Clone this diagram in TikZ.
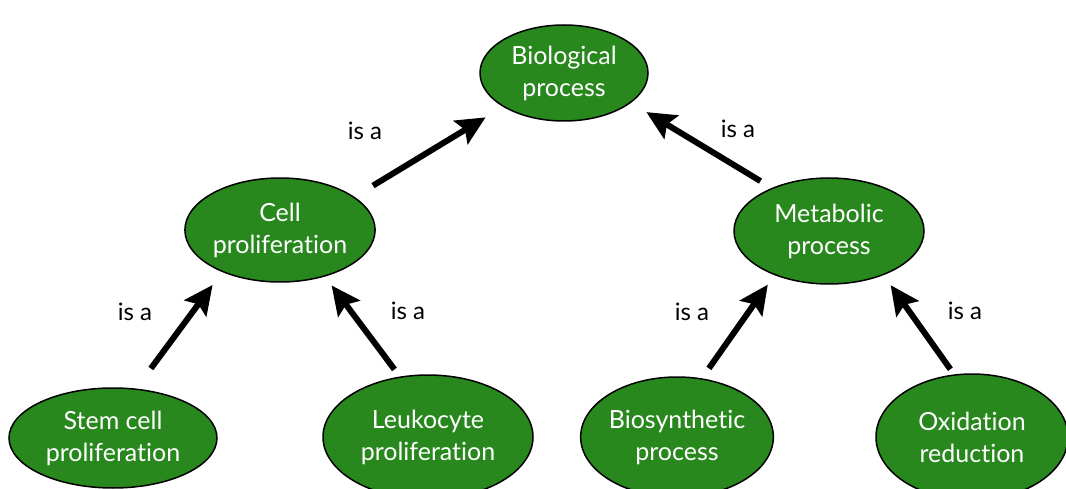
\documentclass[tikz,border=0pt]{standalone}
\usepackage{fontspec}
\setmainfont{Lato}[Ligatures={NoCommon,NoContextual}]
\usetikzlibrary{shapes.geometric,arrows.meta}
\definecolor{termgreen}{RGB}{40,136,30}
\tikzset{
  term/.style={ellipse, draw=black, line width=1.5pt, fill=termgreen,
    text=white, align=center, inner sep=0pt,
    font=\fontsize{25}{32}\selectfont},
  isa/.style={line width=6pt, -{Stealth[length=29pt,width=27pt,inset=5pt]}},
  rel/.style={text=black, font=\fontsize{24}{28}\selectfont},
}
\begin{document}
\begin{tikzpicture}[x=1pt,y=-1pt]
\useasboundingbox (0,0) rectangle (1066,489);

% ontology terms
\node[term, minimum width=168pt, minimum height=96pt]  (bio)  at (564,73)  {Biological\\process};
\node[term, minimum width=190pt, minimum height=104pt] (cell) at (280,230) {Cell\\proliferation};
\node[term, minimum width=190pt, minimum height=106pt] (met)  at (829,231) {Metabolic\\process};
\node[term, minimum width=208pt, minimum height=100pt] (stem) at (113,438) {Stem cell\\proliferation};
\node[term, minimum width=210pt, minimum height=124pt] (leuk) at (428,437) {Leukocyte\\proliferation};
\node[term, minimum width=190pt, minimum height=120pt] (bios) at (677,437) {Biosynthetic\\process};
\node[term, minimum width=192pt, minimum height=126pt] (oxid) at (972,437) {Oxidation\\reduction};

% "is a" relations
\draw[isa, shorten <=21.6pt, shorten >=20.3pt] (cell.24.2)  -- (bio.209.3);
\draw[isa, shorten <=13.2pt, shorten >=17.9pt] (met.143.9)  -- (bio.336.4);
\draw[isa, shorten <=24.9pt, shorten >=16pt]   (stem.65.3)  -- (cell.216.2);
\draw[isa, shorten <=8.9pt,  shorten >=11pt]   (leuk.115)   -- (cell.314.7);
\draw[isa, shorten <=12.1pt, shorten >=11.5pt] (bios.67.5)  -- (met.219.9);
\draw[isa, shorten <=6.3pt,  shorten >=12.2pt] (oxid.106.7) -- (met.321.5);

% relation labels
\node[rel] (l1) at (365,131) {is a};
\node[rel] (l2) at (738,129) {is a};
\node[rel] (l3) at (135,312) {is a};
\node[rel] (l4) at (408,311) {is a};
\node[rel] (l5) at (692,312) {is a};
\node[rel] (l6) at (965,311) {is a};
\end{tikzpicture}
\end{document}
